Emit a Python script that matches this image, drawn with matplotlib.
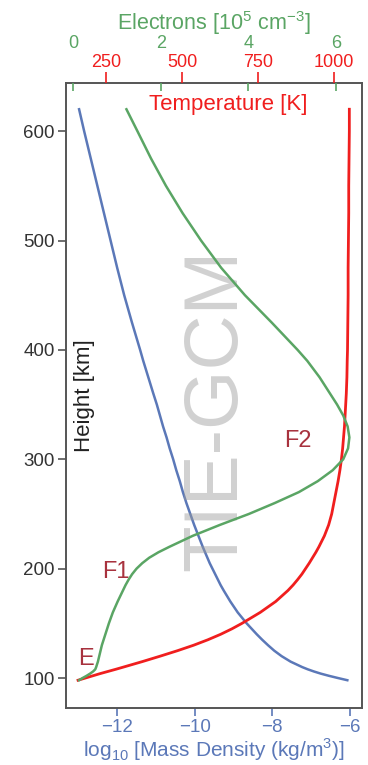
import numpy as np
import matplotlib
matplotlib.use('Agg')
import matplotlib.pyplot as plt

plt.rcParams['font.family'] = ['Liberation Sans', 'DejaVu Sans']
plt.rcParams['mathtext.fontset'] = 'custom'
plt.rcParams['mathtext.rm'] = 'Liberation Sans'

# model profile, read on a common height grid (km)
height = [98, 100, 102, 104, 106, 108, 110, 115, 120, 125, 130, 135, 140, 145, 150,
          160, 170, 180, 185, 190, 195, 200, 205, 210, 215, 220, 230, 240, 250, 260,
          270, 280, 290, 300, 310, 320, 330, 340, 350, 360, 375, 390, 400, 425, 450,
          475, 500, 525, 550, 575, 600, 620]
# neutral temperature [K]
temperature = [158, 182, 206, 230, 256, 282, 307, 369, 428, 485, 538, 585, 627, 664, 697,
               757, 808, 848, 865, 880, 894, 906, 918, 929, 940, 950, 968, 982, 992, 999,
               1006, 1013, 1019, 1024, 1028, 1031, 1034, 1036, 1038, 1040, 1042, 1043, 1044, 1045, 1046,
               1046, 1047, 1048, 1048, 1049, 1050, 1050]
# electron density [1e5 cm^-3]
electrons = [0.14, 0.22, 0.31, 0.39, 0.46, 0.51, 0.53, 0.57, 0.60, 0.63, 0.66, 0.70, 0.74, 0.78, 0.82,
             0.91, 1.02, 1.14, 1.20, 1.27, 1.35, 1.45, 1.58, 1.74, 1.95, 2.20, 2.73, 3.35, 4.01, 4.60,
             5.15, 5.58, 5.92, 6.16, 6.27, 6.30, 6.26, 6.16, 6.02, 5.86, 5.62, 5.34, 5.12, 4.53, 3.92,
             3.38, 2.92, 2.50, 2.12, 1.78, 1.47, 1.22]
# log10 mass density [kg/m^3]
log_density = [-6.07, -6.31, -6.54, -6.75, -6.93, -7.09, -7.23, -7.53, -7.76, -7.95, -8.11, -8.26, -8.40, -8.53, -8.66,
               -8.89, -9.08, -9.25, -9.33, -9.40, -9.47, -9.54, -9.61, -9.67, -9.73, -9.79, -9.90, -10.01, -10.11, -10.21,
               -10.30, -10.38, -10.47, -10.55, -10.64, -10.72, -10.81, -10.89, -10.97, -11.06, -11.19, -11.32, -11.40, -11.61, -11.81,
               -11.99, -12.16, -12.33, -12.50, -12.67, -12.84, -12.97]

layers = ['E', 'F1', 'F2']
layer_x = [-12.78, -12.03, -7.33]
layer_h = [117, 197, 317]

c_blue = '#5b78b8'
c_green = '#5aa564'
c_red = '#f01e1e'
c_layer = '#a8323e'
c_axis = '#555555'

fig = plt.figure(figsize=(3.68, 7.65), dpi=100)
ax = fig.add_axes([0.179, 0.0745, 0.805, 0.817])

ax.plot(log_density, height, color=c_blue, lw=1.8, zorder=3)
ax.set_xlim(-13.31, -5.69)
ax.set_ylim(72.6, 644)
ax.set_xticks([-12, -10, -8, -6])
ax.set_xticklabels(['\u221212', '\u221210', '\u22128', '\u22126'])
ax.set_yticks([100, 200, 300, 400, 500, 600])
ax.tick_params(axis='x', colors=c_blue, labelsize=13.5, length=6, width=1.2, pad=2)
ax.tick_params(axis='y', colors=c_axis, labelcolor='#333333', labelsize=13.5, length=6, width=1.2, pad=2)
ax.set_xlabel('log$_{10}$ [Mass Density (kg/m$^3$)]', color=c_blue, fontsize=15, labelpad=0)
for s in ax.spines.values():
    s.set_color(c_axis)
    s.set_linewidth(1.4)

# temperature axis on top, ticks outward
axt = ax.twiny()
axt.plot(temperature, height, color=c_red, lw=2, zorder=3)
axt.set_xlim(118, 1092)
axt.set_xticks([250, 500, 750, 1000])
axt.tick_params(axis='x', colors=c_red, labelsize=13, length=8, width=1.2, pad=0.5)
axt.spines[:].set_visible(False)

# electron density axis on top, ticks inward, labels above the temperature labels
axe = ax.twiny()
axe.plot(electrons, height, color=c_green, lw=1.8, zorder=3)
axe.set_xlim(-0.16, 6.59)
axe.set_xticks([0, 2, 4, 6])
axe.tick_params(axis='x', direction='in', colors=c_green, labelsize=13, length=6, width=1.2, pad=22)
axe.set_xlabel('Electrons [10$^5$ cm$^{-3}$]', color=c_green, fontsize=15.5, labelpad=4)
axe.spines[:].set_visible(False)

ax.text(0.547, 0.965, 'Temperature [K]', transform=ax.transAxes, color=c_red,
        fontsize=16, ha='center', va='center')
ax.text(0.064, 0.50, 'Height [km]', transform=ax.transAxes, color='#222222',
        fontsize=16, ha='center', va='center', rotation=90)

for name, x, h in zip(layers, layer_x, layer_h):
    ax.text(x, h, name, color=c_layer, fontsize=17, ha='center', va='center')

ax.text(0.51, 0.477, 'TIE-GCM', transform=ax.transAxes, color='#9a9a9a', alpha=0.45,
        fontsize=55, ha='center', va='center', rotation=90, zorder=10)

fig.savefig('out.png', dpi=100)
